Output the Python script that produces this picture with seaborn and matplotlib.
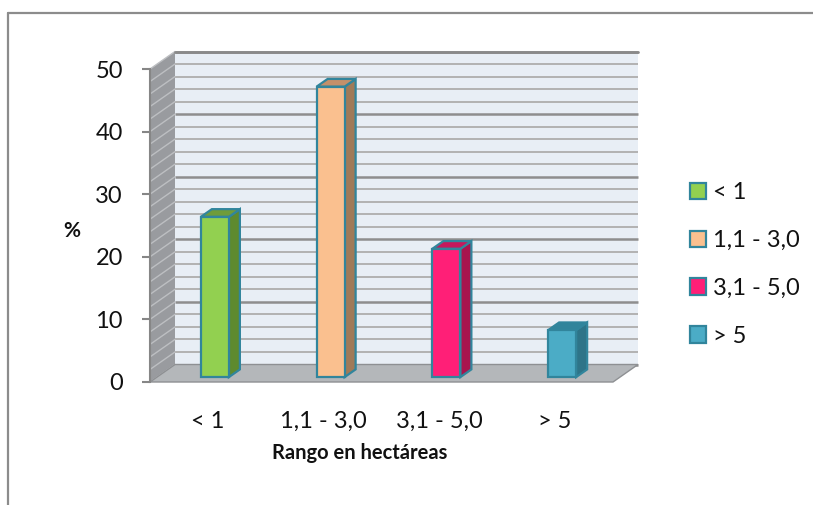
import matplotlib
matplotlib.use("Agg")
import matplotlib.pyplot as plt
from matplotlib.patches import Polygon, Patch
from matplotlib.lines import Line2D
import seaborn as sns
import pandas as pd

# Share of farms by size range (%)
rangos = ["< 1", "1,1 - 3,0", "3,1 - 5,0", "> 5"]
porcentaje = [25.6, 46.4, 20.5, 7.5]
y_ticks = [0, 10, 20, 30, 40, 50]

front_colors = ["#92D050", "#FAC08F", "#FF1F77", "#4BACC6"]
side_colors = ["#5E8A2E", "#A07A58", "#A8144E", "#2E7488"]
top_colors = ["#6F9C3A", "#C4906A", "#C4185C", "#31849B"]
edge = "#31859C"

sns.set_theme(style="white")
plt.rcParams["font.family"] = ["Lato", "DejaVu Sans"]

W, H, DPI = 813, 505, 100
fig = plt.figure(figsize=(W / DPI, H / DPI), dpi=DPI)

# plot box (front plane) in pixels
left_px, right_px, base_px, top_px = 150, 613, 382, 69
ax = fig.add_axes([left_px / W, 1 - base_px / H,
                   (right_px - left_px) / W, (base_px - top_px) / H])
ax.set_xlim(-0.5, 3.5)
ax.set_ylim(0, 50)

# depth of the 3-D box, converted from pixels to data units
px_x = 4 / (right_px - left_px)
px_y = 50 / (base_px - top_px)
DX, DY = 25 * px_x, 17.5 * px_y
t0, t1 = 0.28, 0.72

# back wall with gridlines
ax.add_patch(Polygon([(-0.5 + DX, DY), (3.5 + DX, DY), (3.5 + DX, 50 + DY),
                      (-0.5 + DX, 50 + DY)], closed=True, fc="#E8EEF5",
                     ec="none", zorder=0.1, clip_on=False))
# left side wall
ax.add_patch(Polygon([(-0.5, 0), (-0.5 + DX, DY), (-0.5 + DX, 50 + DY),
                      (-0.5, 50)], closed=True, fc="#999B9F", ec="none",
                     zorder=0.2, clip_on=False))
for v in range(0, 51, 2):
    major = v % 10 == 0
    ax.plot([-0.5 + DX, 3.5 + DX], [v + DY, v + DY],
            color="#8E8E8E" if major else "#B2B2B2",
            lw=1.8 if major else 1.4, zorder=0.3, clip_on=False,
            solid_capstyle="butt")
    ax.plot([-0.5, -0.5 + DX], [v, v + DY], color="#BDBFC2", lw=1.0,
            zorder=0.3, clip_on=False)
ax.plot([-0.5 + DX, 3.5 + DX], [50 + DY, 50 + DY], color="#8A8A8A", lw=2.0,
        zorder=0.35, clip_on=False)

# floor
ax.add_patch(Polygon([(-0.5, 0), (3.5, 0), (3.5 + DX, DY), (-0.5 + DX, DY)],
                     closed=True, fc="#B4B7BA", ec="#8E9093", lw=1.0,
                     zorder=0.5, clip_on=False))

df = pd.DataFrame({"rango": rangos, "pct": porcentaje})
sns.barplot(data=df, x="rango", y="pct", hue="rango", palette=front_colors,
            saturation=1, width=0.242, edgecolor=edge, linewidth=1.6,
            errorbar=None, legend=False, ax=ax, zorder=3)
ax.set_xlim(-0.5, 3.5)
ax.set_ylim(0, 50)

# push each bar into the box and give it a side and a top face
bx, by = (t1 - t0) * DX, (t1 - t0) * DY
for i, p in enumerate(ax.patches[-len(rangos):]):
    x0 = p.get_x() + t0 * DX
    y0 = t0 * DY
    w, h = p.get_width(), p.get_height()
    p.set_xy((x0, y0))
    p.set_clip_on(False)
    p.set_joinstyle("miter")
    side = [(x0 + w, y0), (x0 + w, y0 + h), (x0 + w + bx, y0 + h + by),
            (x0 + w + bx, y0 + by)]
    top = [(x0, y0 + h), (x0 + w, y0 + h), (x0 + w + bx, y0 + h + by),
           (x0 + bx, y0 + h + by)]
    ax.add_patch(Polygon(side, closed=True, fc=side_colors[i], ec=edge,
                         lw=1.6, joinstyle="miter", zorder=2.5, clip_on=False))
    ax.add_patch(Polygon(top, closed=True, fc=top_colors[i], ec=edge,
                         lw=1.6, joinstyle="miter", zorder=2.5, clip_on=False))

# axes decoration
for s in ["top", "right", "bottom"]:
    ax.spines[s].set_visible(False)
ax.spines["left"].set_color("#868686")
ax.spines["left"].set_linewidth(1.5)
ax.set_facecolor("none")
ax.set_yticks(y_ticks)
ax.set_yticklabels([str(v) for v in y_ticks])
ax.tick_params(axis="y", direction="out", length=5.5, width=1.5,
               color="#868686", pad=14, labelsize=17, labelcolor="#111111",
               left=True)
ax.tick_params(axis="x", length=0, pad=21, labelsize=17, labelcolor="#111111")
ax.set_xlabel("")
ax.set_ylabel("")
ax.grid(False)

fig.text(72 / W, 1 - 231 / H, "%", ha="center", va="center", fontsize=15,
         fontweight="bold", color="#111111")
fig.text(360 / W, 1 - 453 / H, "Rango en hectáreas", ha="center",
         va="center", fontsize=14.5, fontweight="bold", color="#111111")

handles = [Patch(facecolor=c, edgecolor=edge, linewidth=1.6)
           for c in front_colors]
fig.legend(handles, rangos, loc="upper left",
           bbox_to_anchor=(690 / W, 1 - 182 / H), frameon=False,
           fontsize=17, handlelength=0.68, handleheight=0.68,
           handletextpad=0.3, labelspacing=1.14, borderpad=0,
           borderaxespad=0, labelcolor="#111111")

# chart frame
fig.add_artist(Line2D([8 / W, 1], [1 - 13 / H, 1 - 13 / H],
                      transform=fig.transFigure, color="#8C8C8C", lw=1.6))
fig.add_artist(Line2D([8 / W, 8 / W], [1 - 13 / H, 0],
                      transform=fig.transFigure, color="#8C8C8C", lw=1.6))

fig.savefig("out.png", dpi=DPI)
